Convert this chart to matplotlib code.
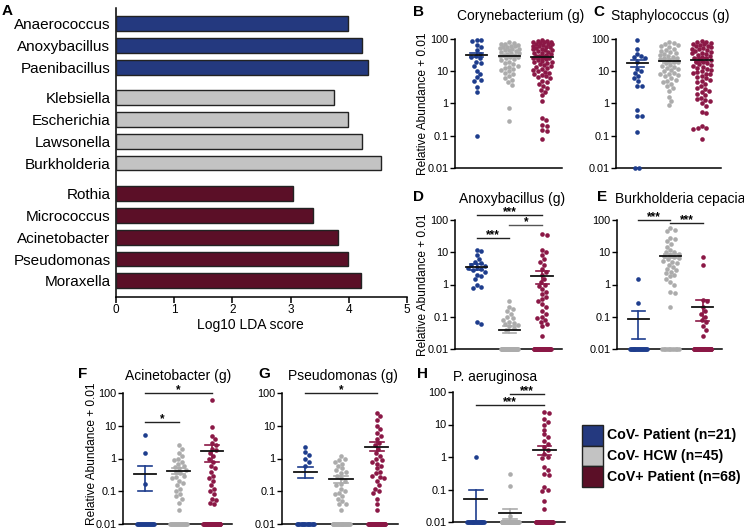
import numpy as np
import matplotlib
matplotlib.use("Agg")
import matplotlib.pyplot as plt
from matplotlib.patches import Rectangle

plt.rcParams['font.family'] = ['Liberation Sans', 'DejaVu Sans']

# ---------------- data ----------------
lda_taxa = ["Anaerococcus", "Anoxybacillus", "Paenibacillus",
            "Klebsiella", "Escherichia", "Lawsonella", "Burkholderia",
            "Rothia", "Micrococcus", "Acinetobacter", "Pseudomonas", "Moraxella"]
lda_scores = [3.99, 4.23, 4.33, 3.75, 3.99, 4.23, 4.55, 3.04, 3.39, 3.81, 3.99, 4.21]
lda_group = [0, 0, 0, 1, 1, 1, 1, 2, 2, 2, 2, 2]

legend_labels = ["CoV- Patient (n=21)", "CoV- HCW (n=45)", "CoV+ Patient (n=68)"]

# B Corynebacterium
cory_neg = [95, 90, 85, 65, 55, 45, 35, 30, 28, 25, 20, 18, 15, 10, 8, 6.5, 5.5, 5, 3.2, 2.3, 0.095]
cory_hcw = [80, 75, 70, 68, 65, 62, 60, 58, 55, 52, 50, 48, 46, 44, 42, 40, 38, 36, 35, 33,
            32, 30, 28, 27, 25, 24, 22, 20, 18, 17, 15, 14, 13, 12, 11, 10, 9, 8, 7, 6,
            5.5, 4.5, 3.8, 0.75, 0.28]
cory_pos = [90, 88, 85, 82, 80, 78, 75, 72, 70, 68, 65, 62, 60, 58, 55, 52, 50, 48, 46, 44,
            42, 40, 38, 36, 34, 32, 30, 29, 28, 26, 25, 24, 22, 21, 20, 19, 18, 17, 16, 15,
            14, 13, 12, 11, 10, 9.5, 9, 8, 7.5, 7, 6.5, 6, 5, 4.5, 4, 3.5, 3, 2.6, 2.2, 1.8,
            1.2, 0.35, 0.3, 0.22, 0.2, 0.15, 0.14, 0.08]
cory_mean = [33, 30, 27]
cory_lo = [28, 27, 24]
cory_hi = [38, 33, 30]

# C Staphylococcus
staph_neg = [90, 50, 35, 30, 28, 25, 20, 12, 10, 9, 7, 6, 5, 3.5, 3.4, 0.65, 0.42, 0.4, 0.13, 0.01, 0.01]
staph_hcw = [80, 75, 70, 65, 60, 55, 50, 45, 42, 40, 38, 35, 32, 30, 28, 26, 25, 24, 22, 20,
             19, 18, 16, 15, 14, 13, 12, 11, 10, 9, 8.5, 8, 7.5, 7, 6, 5.5, 5, 4.5, 4, 3.5,
             3, 2.5, 1.6, 1.2, 0.9]
staph_pos = [85, 80, 78, 75, 72, 70, 65, 62, 60, 55, 52, 50, 48, 45, 42, 40, 38, 36, 34, 32,
             30, 28, 26, 25, 24, 22, 20, 19, 18, 17, 16, 15, 14, 13, 12, 11, 10, 9.5, 9, 8.5,
             8, 7, 6.5, 6, 5.5, 5, 4.5, 4, 3.5, 3, 2.8, 2.5, 2.2, 2, 1.8, 1.5, 1.4, 1.3, 1.2, 1.0,
             0.85, 0.55, 0.5, 0.2, 0.18, 0.17, 0.16, 0.08]
staph_mean = [18, 21, 23]
staph_lo = [14, 18.5, 20]
staph_hi = [22, 24, 26]

# D Anoxybacillus
anoxy_neg = [12, 11, 8, 6, 5, 4.5, 4, 3.8, 3.5, 3.2, 3, 2.8, 2.5, 2, 1.8, 1.5, 1, 0.85, 0.8, 0.07, 0.06]
anoxy_hcw = [0.3, 0.2, 0.17, 0.15, 0.12, 0.1, 0.09, 0.08, 0.07, 0.065, 0.06, 0.055, 0.05, 0.045,
             0.04] + [0.01] * 30
anoxy_pos = [38, 35, 12, 10, 8, 6, 5, 4, 3, 2.5, 2, 1.5, 1.2, 1, 0.9, 0.7, 0.6, 0.5, 0.4, 0.35,
             0.3, 0.25, 0.2, 0.15, 0.12, 0.1, 0.09, 0.08, 0.07, 0.06, 0.05, 0.026] + [0.01] * 36
anoxy_mean = [3.5, 0.04, 1.8]
anoxy_lo = [2.8, 0.031, 1.05]
anoxy_hi = [4.2, 0.05, 2.6]

# E Burkholderia cepacia
burk_neg = [1.5, 0.27] + [0.01] * 19
burk_hcw = [55, 50, 45, 28, 25, 22, 18, 15, 12, 10, 10, 9, 8, 7.5, 7, 6.5, 6, 5.5, 5, 4.5,
            4, 3.5, 3, 2.8, 2.5, 2.2, 2, 1.8, 1.5, 1.2, 1, 0.6, 0.55, 0.2] + [0.01] * 11
burk_pos = [7, 4, 0.33, 0.3, 0.2, 0.15, 0.12, 0.1, 0.08, 0.07, 0.05, 0.04, 0.026] + [0.01] * 55
burk_mean = [0.085, 7.7, 0.2]
burk_lo = [0.02, 6.5, 0.075]
burk_hi = [0.15, 9.0, 0.32]

# F Acinetobacter
acin_neg = [5.2, 1.5, 0.17] + [0.01] * 18
acin_hcw = [2.5, 2, 1.5, 1.2, 1, 0.9, 0.8, 0.7, 0.6, 0.55, 0.5, 0.45, 0.4, 0.35, 0.3, 0.28,
            0.25, 0.2, 0.18, 0.15, 0.12, 0.1, 0.08, 0.07, 0.06, 0.045, 0.027] + [0.01] * 18
acin_pos = [60, 9, 5, 4, 3, 2.5, 2, 1.8, 1.5, 1.2, 1, 0.8, 0.6, 0.5, 0.4, 0.3, 0.25, 0.2,
            0.15, 0.12, 0.1, 0.08, 0.06, 0.055, 0.045, 0.04] + [0.01] * 42
acin_mean = [0.33, 0.42, 1.7]
acin_lo = [0.1, 0.33, 0.8]
acin_hi = [0.57, 0.52, 2.6]

# G Pseudomonas
pseu_neg = [2.2, 1.6, 1.3, 1, 0.8, 0.6] + [0.01] * 15
pseu_hcw = [1.2, 1, 0.9, 0.8, 0.7, 0.6, 0.5, 0.45, 0.4, 0.35, 0.3, 0.25, 0.2, 0.17, 0.15,
            0.12, 0.1, 0.09, 0.08, 0.07, 0.06, 0.05, 0.04, 0.04, 0.027] + [0.01] * 20
pseu_pos = [25, 20, 15, 10, 8, 6, 5, 4, 3, 2.5, 2, 1.5, 1.2, 1, 0.9, 0.8, 0.7, 0.6, 0.5, 0.4,
            0.35, 0.3, 0.28, 0.25, 0.2, 0.15, 0.12, 0.1, 0.09, 0.06, 0.04, 0.026] + [0.01] * 36
pseu_mean = [0.4, 0.23, 2.3]
pseu_lo = [0.25, 0.18, 1.7]
pseu_hi = [0.55, 0.29, 3.1]

# H P. aeruginosa
paer_neg = [1.0] + [0.01] * 20
paer_hcw = [0.3, 0.13, 0.015] + [0.01] * 42
paer_pos = [25, 22, 15, 12, 10, 7, 5, 4, 3, 2.5, 2, 1.6, 1.2, 1, 0.9, 0.5, 0.4, 0.3, 0.28,
            0.12, 0.1, 0.09, 0.045, 0.025] + [0.01] * 44
paer_mean = [0.052, 0.019, 1.7]
paer_lo = [0.01, 0.012, 1.15]
paer_hi = [0.095, 0.026, 2.2]

# significance: (group_a, group_b, y, label)
anoxy_sig = [(1, 3, 143, "***"), (2, 3, 70, "*"), (1, 2, 27, "***")]
burk_sig = [(1, 2, 100, "***"), (2, 3, 82, "***")]
acin_sig = [(1, 3, 100, "*"), (1, 2, 13, "*")]
pseu_sig = [(1, 3, 100, "*")]
paer_sig = [(2, 3, 87, "***"), (1, 3, 40, "***")]

# ---------------- style ----------------
bar_cols = ["#24397f", "#c3c3c3", "#5b0f27"]
dot_cols = ["#1e3d8d", "#acacac", "#8b1846"]
yticks = [0.01, 0.1, 1, 10, 100]
ytlabels = ["0.01", "0.1", "1", "10", "100"]

W, H = 744, 529
fig = plt.figure(figsize=(W / 100, H / 100), dpi=100)


def add_ax(x0, y0, x1, y1):
    return fig.add_axes([x0 / W, 1 - y1 / H, (x1 - x0) / W, (y1 - y0) / H])


def ftext(x, y, s, **kw):
    fig.text(x / W, 1 - y / H, s, **kw)


# ---------------- Panel A ----------------
axA = add_ax(116, 8, 407, 297)
pos = []
p = 0.0
for i, g in enumerate(lda_group):
    if i > 0:
        p += 1.0 if g == lda_group[i - 1] else 1.4
    pos.append(p)
axA.barh(pos, lda_scores, height=0.68, color=[bar_cols[g] for g in lda_group],
         edgecolor="#222222", linewidth=1.0, zorder=3)
axA.set_ylim(pos[-1] + 0.74, -0.71)
axA.set_xlim(0, 5)
axA.set_yticks(pos)
axA.set_yticklabels(lda_taxa, fontsize=11)
axA.tick_params(axis="y", length=0, pad=4)
axA.set_xticks([0, 1, 2, 3, 4, 5])
axA.tick_params(axis="x", labelsize=8.5, length=4, width=1.1, pad=1)
for s in ["top", "right"]:
    axA.spines[s].set_visible(False)
for s in ["left", "bottom"]:
    axA.spines[s].set_linewidth(1.1)
ftext(250, 325, "Log10 LDA score", fontsize=10, ha="center", va="center")


# ---------------- dot plots ----------------
def swarm_x(ax, xc, vals, d=4.4, maxw=9.5, zero_w=8.5):
    vals = np.asarray(vals, float)
    tr = ax.transData
    ypx = tr.transform(np.column_stack([np.full(len(vals), xc), vals]))[:, 1]
    pxu = tr.transform([[xc + 1, 1.0]])[0, 0] - tr.transform([[xc, 1.0]])[0, 0]
    zero = vals <= 0.010001
    offs = np.zeros(len(vals))
    zi = np.where(zero)[0]
    if len(zi) > 1:
        half = min(zero_w, (len(zi) - 1) / 2 * d)
        offs[zi] = np.linspace(-half, half, len(zi))
    order = [i for i in np.argsort(-vals, kind="stable") if not zero[i]]
    cands = [0.0]
    k = 1
    while k * 0.5 <= maxw:
        cands += [k * 0.5, -k * 0.5]
        k += 1
    placed = []
    for i in order:
        y = ypx[i]
        near = [(ox, oy) for ox, oy in placed if abs(oy - y) < d]
        best = None
        bestc, bestov = 0.0, 1e9
        for c in cands:
            mind = min([np.hypot(c - ox, y - oy) for ox, oy in near], default=1e9)
            if mind >= d:
                best = c
                break
            if d - mind < bestov - 1e-9:
                bestov = d - mind
                bestc = c
        if best is None:
            best = bestc
        offs[i] = best
        placed.append((best, y))
    return xc + offs / pxu


def dot_panel(box, groups, means, los, his, sigs, title, tx, ty, letter, lx, ly,
              ylabel=None, ylx=None, yly=None, sig_cols=None):
    ax = add_ax(*box)
    ax.set_yscale("log")
    ax.set_ylim(0.01, 100)
    ax.set_xlim(0.34, 3.6)
    ax.set_xticks([])
    ax.set_yticks(yticks)
    ax.set_yticklabels(ytlabels)
    ax.minorticks_off()
    ax.tick_params(axis="y", labelsize=7.8, length=3.5, width=1.0, pad=1)
    for s in ["top", "right"]:
        ax.spines[s].set_visible(False)
    for s in ["left", "bottom"]:
        ax.spines[s].set_linewidth(1.1)
    for gi, vals in enumerate(groups):
        xc = gi + 1
        xs = swarm_x(ax, xc, vals)
        ax.scatter(xs, vals, s=11, color=dot_cols[gi], linewidths=0, zorder=3, clip_on=False)
        ax.plot([xc - 0.33, xc + 0.33], [means[gi], means[gi]], color="#111111", lw=1.3, zorder=5)
        ax.plot([xc, xc], [los[gi], his[gi]], color=dot_cols[gi], lw=1.2, zorder=4, clip_on=False)
        for yv in (los[gi], his[gi]):
            ax.plot([xc - 0.2, xc + 0.2], [yv, yv], color=dot_cols[gi], lw=1.2, zorder=4,
                    clip_on=False)
    for j, (a, b, y, lab) in enumerate(sigs):
        col = "#222222" if sig_cols is None else sig_cols[j]
        ax.plot([a, b], [y, y], color=col, lw=1.0, clip_on=False, zorder=6)
        ax.text((a + b) / 2, y * 0.98, lab, ha="center", va="baseline", fontsize=8.5,
                fontweight="bold", clip_on=False)
    ftext(tx, ty, title, fontsize=10, ha="center", va="center")
    ftext(lx, ly, letter, fontsize=11, fontweight="bold", ha="left", va="center")
    if ylabel:
        cy = (box[1] + box[3]) / 2 if yly is None else yly
        ftext(ylx, cy, ylabel, fontsize=8.6, rotation=90, ha="center", va="center")
    return ax


yl = "Relative Abundance + 0.01"
dot_panel((455, 39, 562, 168), [cory_neg, cory_hcw, cory_pos], cory_mean, cory_lo, cory_hi, [],
          "Corynebacterium (g)", 521, 16, "B", 413, 12, yl, 423)
dot_panel((616, 39, 721, 168), [staph_neg, staph_hcw, staph_pos], staph_mean, staph_lo, staph_hi, [],
          "Staphylococcus (g)", 670, 16, "C", 593, 12)
dot_panel((455, 220, 562, 349), [anoxy_neg, anoxy_hcw, anoxy_pos], anoxy_mean, anoxy_lo, anoxy_hi,
          anoxy_sig, "Anoxybacillus (g)", 512, 199, "D", 413, 197, yl, 423,
          sig_cols=["#222222", "#555555", "#222222"])
dot_panel((617, 220, 722, 349), [burk_neg, burk_hcw, burk_pos], burk_mean, burk_lo, burk_hi,
          burk_sig, "Burkholderia cepacia", 680, 199, "E", 597, 197)
dot_panel((123, 393, 232, 524), [acin_neg, acin_hcw, acin_pos], acin_mean, acin_lo, acin_hi,
          acin_sig, "Acinetobacter (g)", 178, 376, "F", 78, 374, yl, 92, 454)
dot_panel((282, 393, 398, 524), [pseu_neg, pseu_hcw, pseu_pos], pseu_mean, pseu_lo, pseu_hi,
          pseu_sig, "Pseudomonas (g)", 343, 376, "G", 258, 374)
dot_panel((453, 392, 565, 522), [paer_neg, paer_hcw, paer_pos], paer_mean, paer_lo, paer_hi,
          paer_sig, "P. aeruginosa", 495, 377, "H", 417, 374)

ftext(2, 11, "A", fontsize=11, fontweight="bold", ha="left", va="center")

# ---------------- legend ----------------
for i, lab in enumerate(legend_labels):
    y0 = 425 + i * 20.7
    fig.add_artist(Rectangle((582 / W, 1 - (y0 + 20.7) / H), 21 / W, 20.7 / H,
                             transform=fig.transFigure, facecolor=bar_cols[i],
                             edgecolor="#222222", linewidth=1.0))
    ftext(607, y0 + 10.5, lab, fontsize=10.2, fontweight="bold", ha="left", va="center")

fig.savefig("out.png", dpi=100)
